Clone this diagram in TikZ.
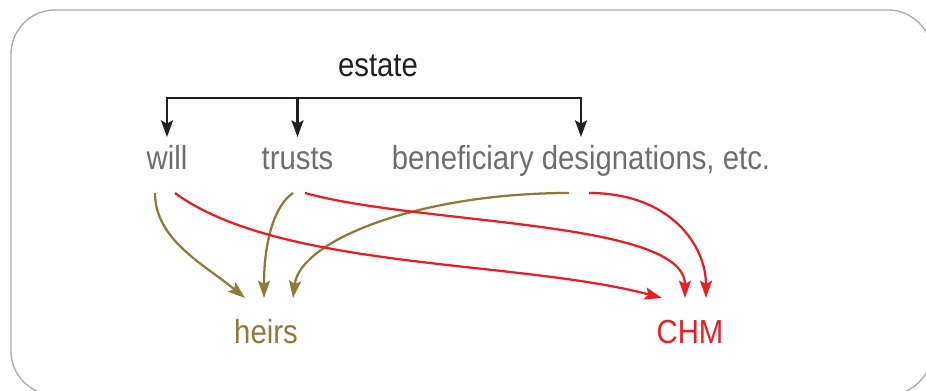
\documentclass[tikz,border=0pt]{standalone}
\usepackage{fontspec}
\setmainfont{Liberation Sans}[FakeStretch=0.88]
\usetikzlibrary{arrows.meta, calc}
\definecolor{textgray}{HTML}{6D6E71}
\definecolor{heirgold}{HTML}{8F7A38}
\definecolor{chmred}{HTML}{ED1C24}
\definecolor{framegray}{HTML}{ABABAB}
\definecolor{inkblack}{HTML}{231F20}
\tikzset{
   word/.style={
     font=\fontsize{25}{30}\selectfont, inner sep=0pt, anchor=base
   },
   source/.style={
      word,
      text=textgray,
   },
   treeline/.style={
      -{Stealth[length=12.5pt,width=9pt,inset=2.5pt]},
      line width=1.9pt, draw=inkblack
   },
   tipline/.style={
      -{Stealth[length=13pt,width=9pt,inset=2.5pt]},
      line width=1.7pt
   },
   heirline/.style={tipline, draw=heirgold},
   chmline/.style={tipline, draw=chmred}
}
\begin{document}
\begin{tikzpicture}[x=0.75pt,y=0.75pt]
   \useasboundingbox (0,0) rectangle (926,390);
   \clip (0,0) rectangle (926,390);
   \draw[framegray, line width=1pt, rounded corners=33pt] (11,-5) rectangle (932,380);

   \node[word, text=inkblack](estate) at (378,313) {estate};
   \node[source](will) at (167,220) {will};
   \node[source](trusts) at (297.5,220) {trusts};
   \node[source](desig) at (581,220) {beneficiary designations, etc.};
   \node[word, text=heirgold](heirs) at (266,47) {heirs};
   \node[word, text=chmred](chm) at (690,47) {CHM};

   % estate splits three ways
   \coordinate (fork) at (378,292);
   \draw[inkblack, line width=1.9pt, line cap=rect] (fork -| will) -- (fork -| desig);
   \foreach \n in {will,trusts,desig}
      \draw[treeline] (fork -| \n) -- ($(\n.base)+(0,33)$);

   % to the heirs
   \draw[heirline] ($(will.base)+(-12,-23)$) .. controls +(0,-47) and +(-40,33) .. ($(heirs.base)+(-21,45)$);
   \draw[heirline] ($(trusts.base)+(-4.5,-23)$) .. controls +(-18,-12) and +(0,58) .. ($(heirs.base)+(-2,45)$);
   \draw[heirline] ($(desig.base)+(-12,-23)$) .. controls +(-149,0) and +(7,58) .. ($(heirs.base)+(27,45)$);
   % to CHM
   \draw[chmline] ($(will.base)+(8,-23)$) .. controls +(105,-77) and +(-142,38) .. ($(chm.base)+(-28,45)$);
   \draw[chmline] ($(trusts.base)+(7.5,-23)$) .. controls +(115,-32) and +(0,78) .. ($(chm.base)+(-5,45)$);
   \draw[chmline] ($(desig.base)+(8,-23)$) .. controls +(81,0) and +(0,53) .. ($(chm.base)+(16,45)$);
\end{tikzpicture}
\end{document}
